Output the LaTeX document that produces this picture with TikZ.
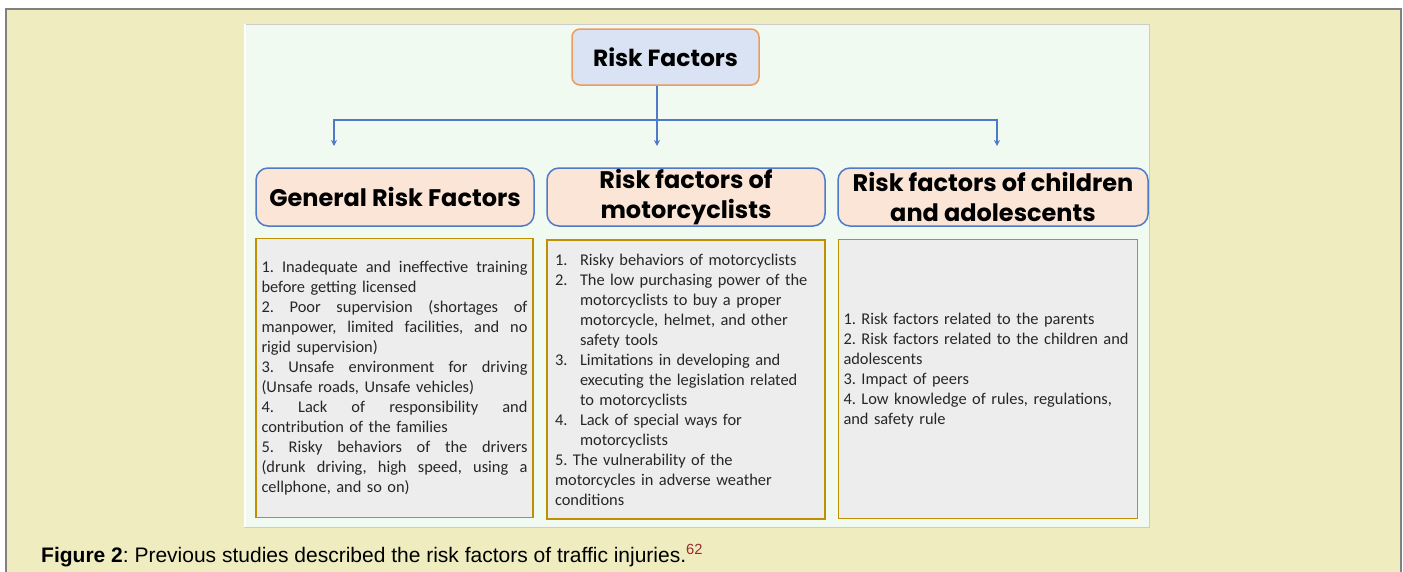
\documentclass[tikz,border=0pt]{standalone}
\usepackage{fontspec}
\setmainfont{Carlito}
\newfontfamily\capfont{Liberation Sans}
\newfontfamily\headfont{Poppins}
\usetikzlibrary{positioning, arrows.meta}
\definecolor{pagebg}{HTML}{EFEDBF}
\definecolor{panelbg}{HTML}{F1FAF1}
\definecolor{titlefill}{HTML}{DAE3F3}
\definecolor{titleline}{HTML}{EE9A5C}
\definecolor{headfill}{HTML}{FBE5D6}
\definecolor{headline}{HTML}{4F7AC7}
\definecolor{listfill}{HTML}{EDEDED}
\definecolor{listline}{HTML}{BF9000}
\definecolor{listtext}{HTML}{262626}
\definecolor{refred}{HTML}{9A2A2A}
\frenchspacing

% one justified line, and the indent of the numbered list
\newcommand\jline[1]{\leavevmode\hbox to 266pt{\spaceskip=0.226em plus 1fil\relax #1}}
\newcommand\num[1]{\makebox[25pt][l]{#1}}
\newcommand\ind{\hspace*{25pt}}

\begin{document}
\begin{tikzpicture}[x=1pt, y=-1pt,
    headbox/.style={draw=headline, fill=headfill, line width=1.5pt, rounded corners=12pt,
      minimum height=58pt, align=center, inner sep=0pt,
      font=\headfont\bfseries\fontsize{24}{30}\selectfont},
    listbox/.style={draw=listline, fill=listfill, line width=1.5pt, minimum height=279pt,
      inner sep=0pt, align=left, text=listtext, font=\fontsize{16.4}{20}\selectfont},
    link/.style={draw=headline, line width=1.2pt},
    arrow/.style={link, -{Stealth[length=6pt, width=6pt]}}]
  \useasboundingbox (0,0) rectangle (1403,571);
  \fill[white] (0,0) rectangle (1403,571);
  \draw[gray, line width=1.5pt, fill=pagebg] (6,9) rectangle (1401,580);
  % panel behind the chart
  \draw[gray!40, fill=panelbg] (244,24) rectangle (1149,527);
  \draw[white, line width=2pt] (245,24) -- (245,527);

  \node[draw=titleline, fill=titlefill, line width=1.5pt, rounded corners=8pt,
        minimum width=187pt, minimum height=56pt,
        font=\headfont\bfseries\fontsize{23.4}{26}\selectfont] (risk) at (665.5,57) {Risk Factors};

  \node[headbox, minimum width=278pt] (general) at (395,197) {General Risk Factors};
  \node[headbox, minimum width=278pt] (moto) at (686,197) {Risk factors of\\motorcyclists};
  \node[headbox, minimum width=310pt] (kids) at (993,197) {Risk factors of children\\and adolescents};

  \coordinate (fork) at (657,120);
  \coordinate (endgen) at (334,146);
  \coordinate (endmoto) at (657,146);
  \coordinate (endkids) at (997,146);
  \draw[link] (risk.south -| fork) -- (fork);
  \draw[arrow] (fork) -| (endgen);
  \draw[arrow] (fork) -| (endkids);
  \draw[arrow] (fork) -- (endmoto);

  \node[listbox, minimum width=277pt, text width=266pt] (genlist) at (394.5,378) {%
    \jline{1. Inadequate and ineffective training}\\
    before getting licensed\\
    \jline{2. Poor supervision (shortages of}\\
    \jline{manpower, limited facilities, and no}\\
    rigid supervision)\\
    \jline{3. Unsafe environment for driving}\\
    (Unsafe roads, Unsafe vehicles)\\
    \jline{4. Lack of responsibility and}\\
    contribution of the families\\
    \jline{5. Risky behaviors of the drivers}\\
    \jline{(drunk driving, high speed, using a}\\
    cellphone, and so on)};
  \node[listbox, minimum width=278pt, text width=262pt] (motolist) at (686,379.5) {%
    \num{1.}Risky behaviors of motorcyclists\\
    \num{2.}The low purchasing power of the\\
    \ind motorcyclists to buy a proper\\
    \ind motorcycle, helmet, and other\\
    \ind safety tools\\
    \num{3.}Limitations in developing and\\
    \ind executing the legislation related\\
    \ind to motorcyclists\\
    \num{4.}Lack of special ways for\\
    \ind motorcyclists\\
    5. The vulnerability of the\\
    motorcycles in adverse weather\\
    conditions};
  % an empty last line lifts this list a little
  \node[listbox, minimum width=299pt, text width=289pt] (kidslist) at (988,379) {%
    1. Risk factors related to the parents\\
    2. Risk factors related to the children and\\
    adolescents\\
    3. Impact of peers\\
    4. Low knowledge of rules, regulations,\\
    and safety rule\\
    \mbox{}};

  \node[anchor=base west, inner sep=0pt, font=\capfont\fontsize{21}{24}\selectfont]
    (caption) at (41,562)
    {\textbf{Figure 2}: Previous studies described the risk factors of traffic injuries.\textsuperscript{\color{refred}62}};
\end{tikzpicture}
\end{document}
